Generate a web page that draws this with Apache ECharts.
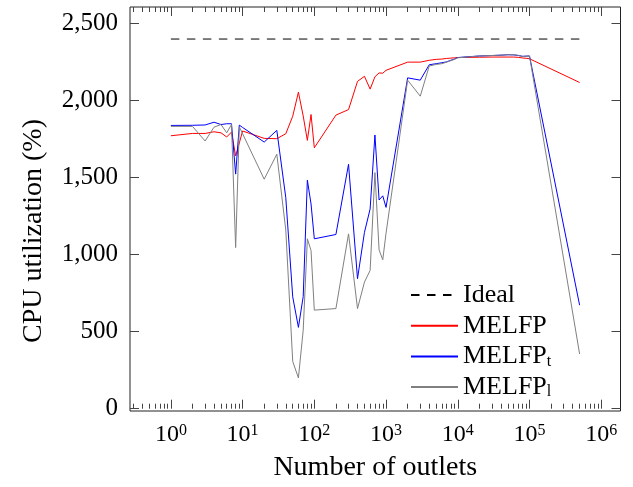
<!DOCTYPE html>
<html><head><meta charset="utf-8">
<script src="https://cdn.jsdelivr.net/npm/echarts@6/dist/echarts.min.js"></script>
<style>html,body{margin:0;padding:0;background:#fff}#c{width:633px;height:487px}</style>
</head><body><div id="c"></div>
<script>
const outlets = [1,2,3,4,5,6,7,8,9,10,20,30,40,50,60,70,80,90,100,200,300,400,500,600,700,800,900,1000,2000,3000,4000,5000,6000,7000,8000,9000,10000,20000,30000,40000,50000,60000,70000,80000,90000,100000,500000];
const ideal = 2400;
const melfp  = [1772,1787,1787,1798,1791,1764,1796,1641,1725,1803,1755,1753,1785,1899,2055,1900,1742,1910,1694,1906,1942,2125,2158,2075,2155,2180,2178,2197,2250,2250,2262,2268,2270,2274,2276,2278,2280,2282,2283,2283,2283,2283,2281,2277,2275,2272,2118];
const melfpT = [1839,1840,1842,1860,1845,1850,1850,1523,1841,1826,1731,1807,1370,726,528,728,1484,1329,1103,1131,1587,844,1145,1297,1777,1355,1382,1307,2148,2133,2233,2240,2246,2252,2262,2270,2280,2290,2293,2295,2298,2297,2293,2288,2289,2290,672];
const melfpL = [1833,1833,1738,1828,1845,1791,1845,1046,1830,1785,1490,1652,1160,307,200,510,1103,1027,640,650,1135,650,822,898,1533,1031,967,1139,2133,2029,2225,2235,2240,2250,2260,2268,2278,2290,2293,2296,2298,2298,2294,2286,2289,2290,355];
const yTicks = [0,500,1000,1500,2000,2500];
const xMajor = [1,10,100,1000,10000,100000,1000000];

const xMin = Math.pow(10,-0.570), xMax = Math.pow(10,6.269);
const minorRaw = [];
for (let e = -1; e <= 6; e++) for (let m = 2; m <= 9; m++) { const v = m*Math.pow(10,e); if (v > xMin && v < xMax) minorRaw.push(v); }

const FONT = 'Liberation Serif';
const axisCommon = { type:'log', logBase:10, min:xMin, max:xMax, axisLine:{show:false}, splitLine:{show:false} };
const tickStyle = {color:'#444', width:1};

const chart = echarts.init(document.getElementById('c'), null, {renderer:'canvas'});
chart.setOption({
  animation:false,
  backgroundColor:'#fff',
  grid:{left:130, right:12.5, top:7, bottom:75.5, show:true, borderColor:'#222', borderWidth:1, backgroundColor:'transparent'},
  legend:{
    orient:'vertical', left:405, top:277, itemWidth:47, itemHeight:14, itemGap:4.7,
    data:['Ideal','MELFP','MELFP_t','MELFP_l'],
    itemStyle:{opacity:0},
    textStyle:{fontFamily:FONT, fontSize:26, color:'#000', lineHeight:26,
      rich:{m:{fontFamily:FONT,fontSize:26,lineHeight:26,color:'#000'}, s:{fontFamily:FONT,fontSize:16,lineHeight:10,verticalAlign:'bottom',color:'#000'}}},
    formatter: n => n.indexOf('_')>0 ? '{m|'+n.split('_')[0]+'}{s|'+n.split('_')[1]+'}' : n
  },
  xAxis:[
    Object.assign({}, axisCommon, {position:'bottom',
      name:'Number of outlets', nameLocation:'middle', nameGap:43,
      nameTextStyle:{fontFamily:FONT, fontSize:28, color:'#000'},
      axisTick:{inside:true, length:9, lineStyle:tickStyle},
      axisLabel:{margin:12, showMinLabel:false, showMaxLabel:false, color:'#000', fontFamily:FONT, fontSize:24,
        formatter: v => '{b|10}{e|'+Math.round(Math.log10(v))+'}',
        rich:{b:{fontFamily:FONT,fontSize:24,lineHeight:24,color:'#000'}, e:{fontFamily:FONT,fontSize:16,lineHeight:12,verticalAlign:'top',color:'#000'}}}
    }),
    Object.assign({}, axisCommon, {position:'bottom', axisLabel:{show:false},
      axisTick:{inside:true, length:5, lineStyle:tickStyle, customValues:minorRaw}}),
    Object.assign({}, axisCommon, {position:'top', axisLabel:{show:false},
      axisTick:{inside:true, length:9, lineStyle:tickStyle, customValues:xMajor}}),
    Object.assign({}, axisCommon, {position:'top', axisLabel:{show:false},
      axisTick:{inside:true, length:5, lineStyle:tickStyle, customValues:minorRaw}})
  ],
  yAxis:[
    {type:'value', min:-15, max:2608, position:'left',
      name:'CPU utilization (%)', nameLocation:'middle', nameGap:82,
      nameTextStyle:{fontFamily:FONT, fontSize:28, color:'#000', padding:[0,44,0,0]},
      axisLine:{show:false}, splitLine:{show:false},
      axisTick:{inside:true, length:9, lineStyle:tickStyle, customValues:yTicks},
      axisLabel:{margin:12, color:'#000', fontFamily:FONT, fontSize:25, customValues:yTicks,
        formatter: v => Number(v).toLocaleString('en-US')}},
    {type:'value', min:-15, max:2608, position:'right',
      axisLine:{show:false}, splitLine:{show:false}, axisLabel:{show:false},
      axisTick:{inside:true, length:9, lineStyle:tickStyle, customValues:yTicks}}
  ],
  series:[
    {name:'Ideal', type:'line', symbol:'none', xAxisIndex:0, yAxisIndex:0,
      data:[[outlets[0], ideal],[outlets[outlets.length-1], ideal]],
      lineStyle:{color:'#000', width:1, type:[8.5,7.5]}, itemStyle:{color:'#000'}},
    {name:'MELFP', type:'line', symbol:'none', data:outlets.map((x,i)=>[x,melfp[i]]),
      lineStyle:{color:'#ff0000', width:1}, itemStyle:{color:'#ff0000'}},
    {name:'MELFP_t', type:'line', symbol:'none', data:outlets.map((x,i)=>[x,melfpT[i]]),
      lineStyle:{color:'#0000ff', width:1}, itemStyle:{color:'#0000ff'}},
    {name:'MELFP_l', type:'line', symbol:'none', data:outlets.map((x,i)=>[x,melfpL[i]]),
      lineStyle:{color:'#808080', width:1}, itemStyle:{color:'#808080'}}
  ]
});
</script></body></html>
